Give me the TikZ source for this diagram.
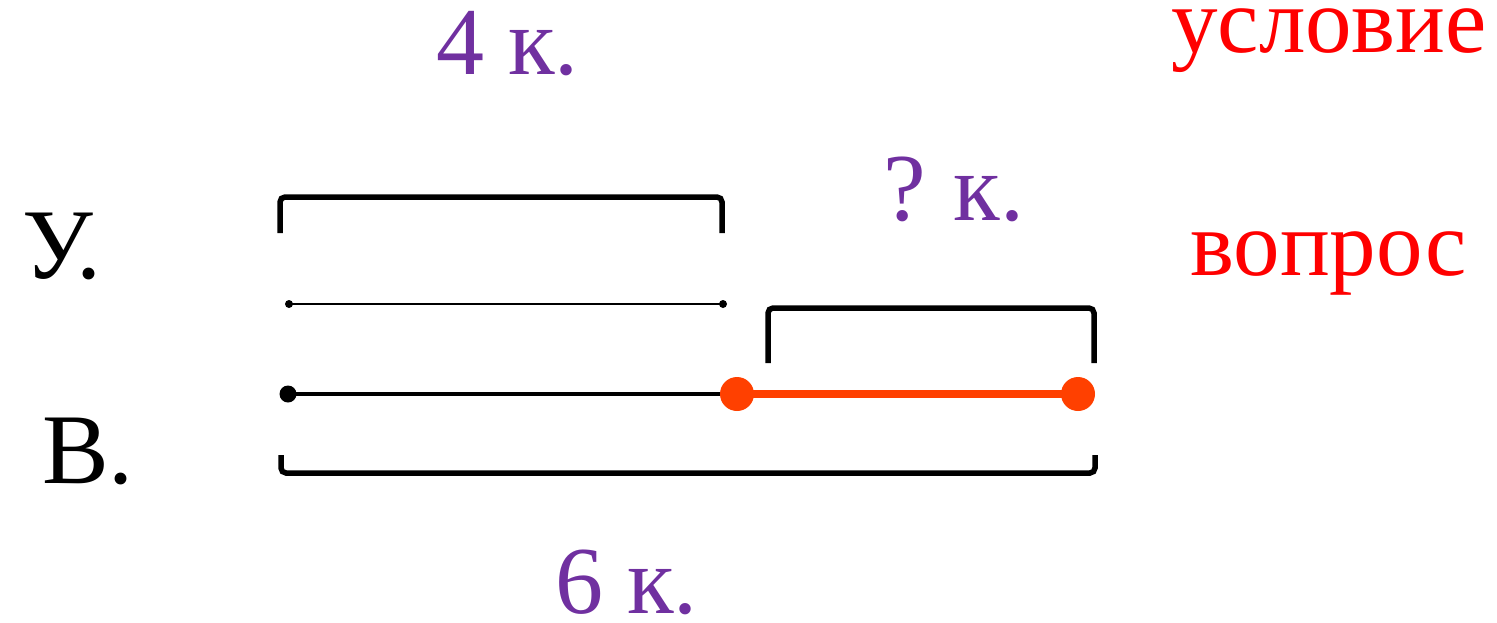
\documentclass[tikz,border=0pt]{standalone}
\usepackage{fontspec}
\setmainfont{Liberation Serif}
\definecolor{lblpurple}{HTML}{7030A0}
\definecolor{lblred}{HTML}{FF0000}
\definecolor{segorange}{HTML}{FF4000}
\tikzset{
  brk/.style={draw=black, line width=5.5pt, rounded corners=5pt},
  lbl/.style={inner sep=0pt, anchor=base west, font=\fontsize{96}{100}\selectfont, text=lblpurple, text depth=0pt},
  redlbl/.style={inner sep=0pt, anchor=base west, font=\fontsize{93}{100}\selectfont, text=lblred},
  blklbl/.style={inner sep=0pt, anchor=base west, font=\fontsize{100}{104}\selectfont, text=black},
}
\begin{document}
\begin{tikzpicture}[x=1pt,y=-1pt]
\useasboundingbox (0,0) rectangle (1497,622);
% labels
\node[lbl] (four) at (436,74) {4 к.};
\node[lbl] (q) at (883,220) {?\hspace{-4pt} к.};
\node[lbl] (six) at (555,613) {6 к.};
\node[redlbl] (cond) at (1171,52) {условие};
\node[redlbl] (ques) at (1190,275) {вопрос};
\node[blklbl] (u) at (22,278) {У.};
\node[blklbl] (v) at (42,483) {В.};
% points
\coordinate (a1) at (289,304);
\coordinate (a2) at (723,304);
\coordinate (b1) at (288,394);
\coordinate (b2) at (737,394);
\coordinate (b3) at (1078,394);
% top bracket
\draw[brk] (280,233) -- (280,197) -- (722,197) -- (722,233);
% thin line
\draw[line width=2pt] (a1) -- (a2);
\fill (a1) circle (4); \fill (a2) circle (4);
% bottom line
\draw[line width=4pt] (b1) -- (b2);
\fill (b1) circle (8.5);
\draw[segorange, line width=8pt] (b2) -- (b3);
\fill[segorange] (b2) circle (17); \fill[segorange] (b3) circle (17);
% small bracket
\draw[brk] (768,363) -- (768,308) -- (1094,308) -- (1094,363);
% bottom bracket
\draw[brk] (281,455) -- (281,473) -- (1095,473) -- (1095,455);
\end{tikzpicture}
\end{document}
